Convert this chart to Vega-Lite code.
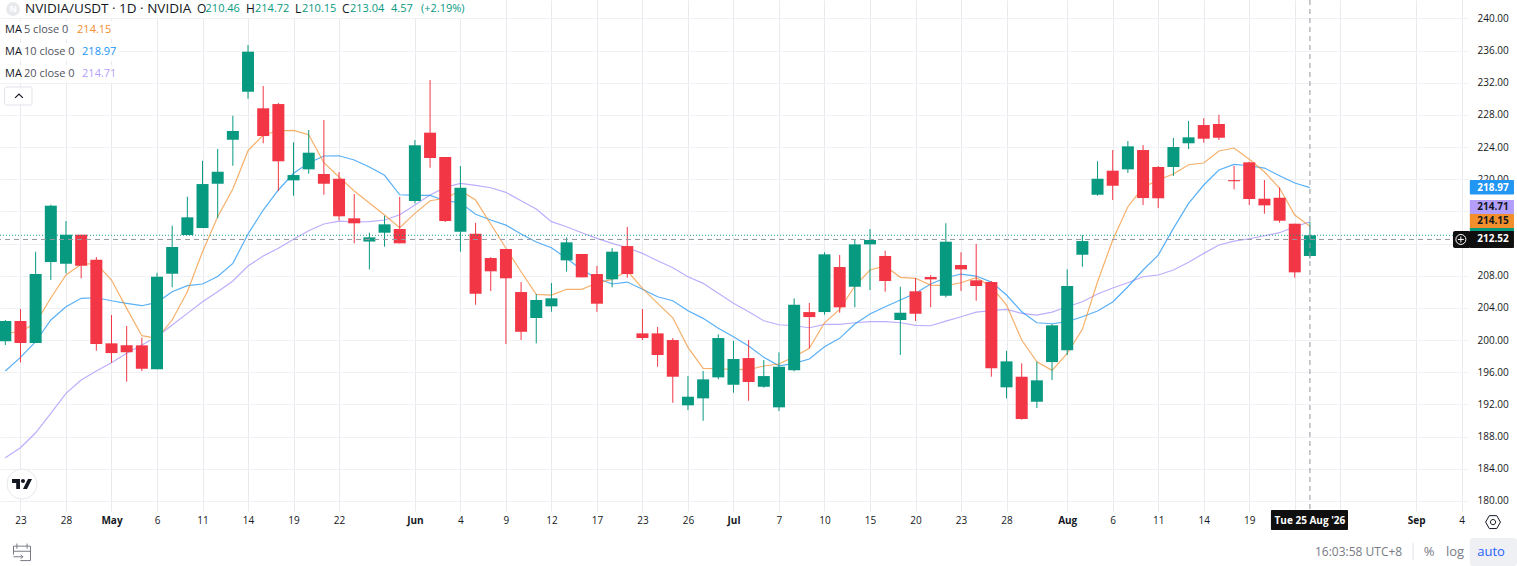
{
  "$schema": "https://vega.github.io/schema/vega-lite/v6.json",
  "description": "NVIDIA/USDT daily candlesticks with MA 5, 10 and 20.",
  "width": 1468,
  "height": 511,
  "autosize": "none",
  "padding": {"left": 0, "top": 0, "right": 49, "bottom": 55},
  "background": "#ffffff",
  "config": {
    "font": "Open Sans",
    "view": {"stroke": null},
    "text": {"align": "left", "baseline": "middle", "fontSize": 11}
  },
  "datasets": {
    "candles": [
      {"bar":0,"date":"2026-04-22","o":199.85,"h":202.50,"l":199.39,"c":202.37,"ma5":200.88,"ma10":196.16,"ma20":185.37},
      {"bar":1,"date":"2026-04-23","o":202.37,"h":203.87,"l":197.24,"c":199.64,"ma5":201.04,"ma10":197.86,"ma20":186.62},
      {"bar":2,"date":"2026-04-24","o":199.64,"h":211.00,"l":199.64,"c":208.22,"ma5":202.13,"ma10":199.80,"ma20":188.48},
      {"bar":3,"date":"2026-04-27","o":209.71,"h":216.84,"l":207.47,"c":216.72,"ma5":205.24,"ma10":202.50,"ma20":190.89},
      {"bar":4,"date":"2026-04-28","o":209.50,"h":214.81,"l":208.31,"c":213.11,"ma5":208.10,"ma10":204.15,"ma20":193.38},
      {"bar":5,"date":"2026-04-29","o":213.11,"h":213.11,"l":207.69,"c":209.25,"ma5":209.43,"ma10":205.20,"ma20":195.04},
      {"bar":6,"date":"2026-04-30","o":210.00,"h":210.33,"l":198.68,"c":199.51,"ma5":209.53,"ma10":205.27,"ma20":196.16},
      {"bar":7,"date":"2026-05-01","o":199.60,"h":203.12,"l":197.19,"c":198.39,"ma5":207.47,"ma10":204.90,"ma20":197.19},
      {"bar":8,"date":"2026-05-04","o":199.35,"h":201.75,"l":194.83,"c":198.48,"ma5":203.95,"ma10":204.58,"ma20":198.36},
      {"bar":9,"date":"2026-05-05","o":199.35,"h":200.30,"l":196.16,"c":196.44,"ma5":200.55,"ma10":204.28,"ma20":199.39},
      {"bar":10,"date":"2026-05-06","o":196.37,"h":208.38,"l":196.37,"c":207.88,"ma5":200.22,"ma10":204.70,"ma20":200.42},
      {"bar":11,"date":"2026-05-07","o":208.26,"h":214.23,"l":206.57,"c":211.58,"ma5":202.50,"ma10":206.02,"ma20":201.88},
      {"bar":12,"date":"2026-05-08","o":213.07,"h":217.83,"l":213.07,"c":215.27,"ma5":206.02,"ma10":206.77,"ma20":203.33},
      {"bar":13,"date":"2026-05-11","o":213.94,"h":222.31,"l":213.94,"c":219.41,"ma5":211.00,"ma10":206.98,"ma20":204.78},
      {"bar":14,"date":"2026-05-12","o":219.45,"h":223.77,"l":215.15,"c":220.94,"ma5":215.35,"ma10":207.91,"ma20":206.02},
      {"bar":15,"date":"2026-05-13","o":224.92,"h":227.91,"l":221.69,"c":226.01,"ma5":218.79,"ma10":209.55,"ma20":207.35},
      {"bar":16,"date":"2026-05-14","o":230.89,"h":236.70,"l":230.02,"c":235.87,"ma5":223.56,"ma10":213.20,"ma20":209.21},
      {"bar":17,"date":"2026-05-15","o":228.83,"h":231.60,"l":224.48,"c":225.38,"ma5":225.51,"ma10":216.18,"ma20":210.46},
      {"bar":18,"date":"2026-05-18","o":229.36,"h":229.49,"l":218.54,"c":222.24,"ma5":226.04,"ma10":218.67,"ma20":211.42},
      {"bar":19,"date":"2026-05-19","o":219.87,"h":224.60,"l":217.96,"c":220.53,"ma5":226.09,"ma10":220.75,"ma20":212.54},
      {"bar":20,"date":"2026-05-20","o":221.24,"h":226.13,"l":220.70,"c":223.31,"ma5":225.55,"ma10":222.03,"ma20":213.61},
      {"bar":21,"date":"2026-05-21","o":220.66,"h":227.37,"l":218.08,"c":219.45,"ma5":222.06,"ma10":222.90,"ma20":214.44},
      {"bar":22,"date":"2026-05-22","o":220.07,"h":220.91,"l":214.90,"c":215.40,"ma5":220.28,"ma10":222.93,"ma20":214.81},
      {"bar":23,"date":"2026-05-26","o":215.15,"h":218.17,"l":212.04,"c":214.53,"ma5":218.54,"ma10":222.40,"ma20":214.69},
      {"bar":24,"date":"2026-05-27","o":212.26,"h":213.36,"l":208.80,"c":212.78,"ma5":217.05,"ma10":221.53,"ma20":214.73},
      {"bar":25,"date":"2026-05-28","o":213.36,"h":215.47,"l":211.62,"c":214.40,"ma5":215.56,"ma10":220.50,"ma20":214.94},
      {"bar":26,"date":"2026-05-29","o":213.82,"h":217.83,"l":212.04,"c":212.04,"ma5":213.98,"ma10":218.08,"ma20":215.60},
      {"bar":27,"date":"2026-06-01","o":217.30,"h":224.89,"l":217.01,"c":224.23,"ma5":215.77,"ma10":218.01,"ma20":216.80},
      {"bar":28,"date":"2026-06-02","o":225.80,"h":232.35,"l":221.44,"c":222.65,"ma5":217.34,"ma10":218.01,"ma20":218.05},
      {"bar":29,"date":"2026-06-03","o":222.77,"h":222.77,"l":214.69,"c":214.81,"ma5":217.64,"ma10":217.34,"ma20":219.00},
      {"bar":30,"date":"2026-06-04","o":213.48,"h":221.65,"l":211.00,"c":218.95,"ma5":218.58,"ma10":217.09,"ma20":219.50},
      {"bar":31,"date":"2026-06-05","o":213.23,"h":214.60,"l":204.40,"c":205.77,"ma5":217.42,"ma10":215.65,"ma20":219.25},
      {"bar":32,"date":"2026-06-08","o":210.21,"h":210.33,"l":206.11,"c":208.56,"ma5":214.44,"ma10":214.94,"ma20":218.95},
      {"bar":33,"date":"2026-06-09","o":211.33,"h":211.33,"l":199.51,"c":207.69,"ma5":211.42,"ma10":214.31,"ma20":218.38},
      {"bar":34,"date":"2026-06-10","o":205.98,"h":207.22,"l":200.01,"c":201.04,"ma5":208.51,"ma10":213.20,"ma20":217.34},
      {"bar":35,"date":"2026-06-11","o":202.75,"h":205.73,"l":199.60,"c":204.99,"ma5":205.70,"ma10":212.20,"ma20":216.30},
      {"bar":36,"date":"2026-06-12","o":204.20,"h":207.10,"l":203.53,"c":205.20,"ma5":205.61,"ma10":211.49,"ma20":214.73},
      {"bar":37,"date":"2026-06-15","o":209.92,"h":212.78,"l":208.51,"c":212.16,"ma5":206.32,"ma10":210.17,"ma20":214.10},
      {"bar":38,"date":"2026-06-16","o":210.71,"h":210.71,"l":207.81,"c":207.81,"ma5":206.32,"ma10":208.72,"ma20":213.36},
      {"bar":39,"date":"2026-06-17","o":208.22,"h":209.22,"l":203.53,"c":204.53,"ma5":207.10,"ma10":207.69,"ma20":212.66},
      {"bar":40,"date":"2026-06-18","o":207.56,"h":211.45,"l":206.57,"c":211.00,"ma5":207.56,"ma10":206.98,"ma20":212.04},
      {"bar":41,"date":"2026-06-22","o":211.70,"h":214.07,"l":207.76,"c":208.22,"ma5":208.63,"ma10":207.22,"ma20":211.49},
      {"bar":42,"date":"2026-06-23","o":200.84,"h":203.87,"l":200.01,"c":200.26,"ma5":206.44,"ma10":206.32,"ma20":210.79},
      {"bar":43,"date":"2026-06-24","o":200.84,"h":201.63,"l":196.69,"c":198.15,"ma5":204.58,"ma10":205.40,"ma20":209.87},
      {"bar":44,"date":"2026-06-25","o":200.01,"h":200.26,"l":192.21,"c":195.45,"ma5":202.78,"ma10":204.90,"ma20":209.00},
      {"bar":45,"date":"2026-06-26","o":191.89,"h":195.53,"l":191.30,"c":192.96,"ma5":199.10,"ma10":203.66,"ma20":207.88},
      {"bar":46,"date":"2026-06-29","o":192.76,"h":196.16,"l":189.97,"c":195.12,"ma5":196.49,"ma10":202.71,"ma20":207.06},
      {"bar":47,"date":"2026-06-30","o":195.37,"h":200.72,"l":195.12,"c":200.26,"ma5":196.44,"ma10":201.47,"ma20":205.82},
      {"bar":48,"date":"2026-07-01","o":194.45,"h":199.92,"l":193.46,"c":197.65,"ma5":196.37,"ma10":200.42,"ma20":204.58},
      {"bar":49,"date":"2026-07-02","o":197.77,"h":200.01,"l":192.46,"c":194.79,"ma5":196.34,"ma10":199.27,"ma20":203.53},
      {"bar":50,"date":"2026-07-06","o":194.20,"h":197.52,"l":194.08,"c":195.53,"ma5":196.78,"ma10":197.86,"ma20":202.41},
      {"bar":51,"date":"2026-07-07","o":191.64,"h":198.48,"l":191.18,"c":196.69,"ma5":197.03,"ma10":196.81,"ma20":201.91},
      {"bar":52,"date":"2026-07-08","o":196.24,"h":205.20,"l":196.12,"c":204.40,"ma5":197.93,"ma10":197.11,"ma20":201.79},
      {"bar":53,"date":"2026-07-09","o":203.49,"h":204.61,"l":198.98,"c":202.87,"ma5":198.98,"ma10":197.65,"ma20":201.54},
      {"bar":54,"date":"2026-07-10","o":203.49,"h":210.92,"l":203.16,"c":210.67,"ma5":202.16,"ma10":199.18,"ma20":201.96},
      {"bar":55,"date":"2026-07-13","o":209.09,"h":210.58,"l":203.41,"c":204.08,"ma5":203.83,"ma10":200.22,"ma20":201.96},
      {"bar":56,"date":"2026-07-14","o":206.64,"h":212.54,"l":204.08,"c":211.91,"ma5":206.73,"ma10":202.00,"ma20":202.16},
      {"bar":57,"date":"2026-07-15","o":211.91,"h":213.82,"l":206.23,"c":212.45,"ma5":208.72,"ma10":203.25,"ma20":202.29},
      {"bar":58,"date":"2026-07-16","o":210.46,"h":211.12,"l":206.02,"c":207.35,"ma5":209.22,"ma10":204.15,"ma20":202.29},
      {"bar":59,"date":"2026-07-17","o":202.50,"h":206.64,"l":198.15,"c":203.41,"ma5":207.81,"ma10":204.99,"ma20":202.16},
      {"bar":60,"date":"2026-07-20","o":206.07,"h":207.72,"l":202.37,"c":203.28,"ma5":207.69,"ma10":205.82,"ma20":201.84},
      {"bar":61,"date":"2026-07-21","o":207.85,"h":208.10,"l":204.08,"c":207.56,"ma5":206.85,"ma10":206.98,"ma20":201.79},
      {"bar":62,"date":"2026-07-22","o":205.52,"h":214.53,"l":205.32,"c":212.24,"ma5":206.77,"ma10":207.76,"ma20":202.37},
      {"bar":63,"date":"2026-07-23","o":209.34,"h":210.92,"l":206.11,"c":208.80,"ma5":207.14,"ma10":208.22,"ma20":202.91},
      {"bar":64,"date":"2026-07-24","o":207.44,"h":211.95,"l":204.90,"c":206.73,"ma5":207.76,"ma10":207.97,"ma20":203.49},
      {"bar":65,"date":"2026-07-27","o":207.22,"h":207.35,"l":195.45,"c":196.49,"ma5":206.64,"ma10":207.22,"ma20":203.66},
      {"bar":66,"date":"2026-07-28","o":194.13,"h":198.68,"l":192.76,"c":197.36,"ma5":204.37,"ma10":205.61,"ma20":203.83},
      {"bar":67,"date":"2026-07-29","o":195.45,"h":197.11,"l":190.10,"c":190.19,"ma5":200.01,"ma10":203.53,"ma20":203.33},
      {"bar":68,"date":"2026-07-30","o":192.34,"h":197.31,"l":191.55,"c":195.00,"ma5":197.31,"ma10":202.16,"ma20":203.12},
      {"bar":69,"date":"2026-07-31","o":197.27,"h":202.00,"l":195.04,"c":201.84,"ma5":196.24,"ma10":202.04,"ma20":203.49},
      {"bar":70,"date":"2026-08-03","o":198.73,"h":208.80,"l":198.15,"c":206.73,"ma5":198.36,"ma10":202.29,"ma20":204.15},
      {"bar":71,"date":"2026-08-04","o":210.62,"h":213.07,"l":209.13,"c":212.32,"ma5":201.34,"ma10":202.91,"ma20":204.78},
      {"bar":72,"date":"2026-08-05","o":218.08,"h":222.24,"l":217.96,"c":220.07,"ma5":207.26,"ma10":203.62,"ma20":205.73},
      {"bar":73,"date":"2026-08-06","o":221.07,"h":223.64,"l":217.42,"c":219.20,"ma5":212.45,"ma10":204.74,"ma20":206.48},
      {"bar":74,"date":"2026-08-07","o":221.24,"h":224.76,"l":220.78,"c":224.10,"ma5":216.59,"ma10":206.64,"ma20":207.14},
      {"bar":75,"date":"2026-08-10","o":223.64,"h":224.27,"l":216.80,"c":217.67,"ma5":219.00,"ma10":208.72,"ma20":207.88},
      {"bar":76,"date":"2026-08-11","o":221.53,"h":221.65,"l":216.43,"c":217.64,"ma5":219.91,"ma10":210.58,"ma20":208.10},
      {"bar":77,"date":"2026-08-12","o":221.53,"h":225.14,"l":220.41,"c":224.02,"ma5":220.66,"ma10":213.90,"ma20":208.72},
      {"bar":78,"date":"2026-08-13","o":224.48,"h":227.25,"l":223.77,"c":225.22,"ma5":221.81,"ma10":217.01,"ma20":209.68},
      {"bar":79,"date":"2026-08-14","o":226.75,"h":227.59,"l":224.55,"c":225.05,"ma5":222.03,"ma10":219.29,"ma20":210.79},
      {"bar":80,"date":"2026-08-17","o":226.88,"h":228.03,"l":224.89,"c":225.17,"ma5":223.52,"ma10":221.16,"ma20":211.83},
      {"bar":81,"date":"2026-08-18","o":219.90,"h":221.65,"l":218.75,"c":219.76,"ma5":223.89,"ma10":221.86,"ma20":212.32},
      {"bar":82,"date":"2026-08-19","o":222.11,"h":222.20,"l":216.80,"c":217.55,"ma5":222.49,"ma10":221.69,"ma20":212.61},
      {"bar":83,"date":"2026-08-20","o":217.59,"h":219.91,"l":215.72,"c":216.76,"ma5":220.94,"ma10":221.40,"ma20":212.98},
      {"bar":84,"date":"2026-08-21","o":217.71,"h":219.00,"l":214.60,"c":214.85,"ma5":218.88,"ma10":220.45,"ma20":213.36},
      {"bar":85,"date":"2026-08-24","o":214.48,"h":214.48,"l":207.76,"c":208.43,"ma5":215.56,"ma10":219.54,"ma20":214.10},
      {"bar":86,"date":"2026-08-25","o":210.46,"h":214.72,"l":210.15,"c":213.04,"ma5":214.15,"ma10":218.97,"ma20":214.71}
    ]
  },
  "data": {"values": [{}]},
  "layer": [
    {
      "mark": {"type": "rect", "color": "#ffffff"},
      "encoding": {
        "x": {
          "datum": -0.35,
          "type": "quantitative",
          "scale": {"domain": [-0.35, 96.42], "nice": false, "zero": false, "padding": 0},
          "axis": {
            "title": null,
            "orient": "bottom",
            "values": [1, 4, 7, 10, 13, 16, 19, 22, 27, 30, 33, 36, 39, 42, 45, 48, 51, 54, 57, 60, 63, 66, 70, 73, 76, 79, 82, 85, 88, 93, 96],
            "tickCount": 40,
            "labelExpr": "{1:'23',4:'28',7:'May',10:'6',13:'11',16:'14',19:'19',22:'22',27:'Jun',30:'4',33:'9',36:'12',39:'17',42:'23',45:'26',48:'Jul',51:'7',54:'10',57:'15',60:'20',63:'23',66:'28',70:'Aug',73:'6',76:'11',79:'14',82:'19',85:'',88:'',93:'Sep',96:'4'}[datum.value]",
            "labelFontWeight": {"condition": {"test": "indexof([7,27,48,70,93],datum.value)>=0", "value": "bold"}, "value": "normal"},
            "labelFontSize": 10,
            "labelColor": "#131722",
            "labelPadding": 4,
            "labelOverlap": false,
            "labelBound": false,
            "labelFlush": false,
            "ticks": false,
            "domain": false,
            "grid": true,
            "gridColor": "#e8eaee",
            "gridWidth": 1
          }
        },
        "x2": {"datum": 30.8},
        "y": {
          "datum": 242.3,
          "type": "quantitative",
          "scale": {"domain": [178.75, 242.3], "nice": false, "zero": false, "padding": 0},
          "axis": {
            "title": null,
            "orient": "right",
            "values": [180, 184, 188, 192, 196, 200, 204, 208, 212, 216, 220, 224, 228, 232, 236, 240],
            "tickCount": 20,
            "labelExpr": "datum.value == 212 || datum.value == 216 ? '' : format(datum.value, '.2f')",
            "labelFontSize": 10,
            "labelColor": "#131722",
            "labelPadding": 9,
            "labelOverlap": false,
            "labelBound": false,
            "labelFlush": false,
            "ticks": false,
            "domain": false,
            "grid": true,
            "gridColor": "#eff1f4",
            "gridWidth": 1
          }
        },
        "y2": {"datum": 240.06}
      }
    },
    {"mark": {"type": "rect", "color": "#ffffff", "opacity": 0.85}, "encoding": {"x": {"datum": -0.35}, "x2": {"datum": 7.5}, "y": {"datum": 239.69}, "y2": {"datum": 237.45}}},
    {"mark": {"type": "rect", "color": "#ffffff", "opacity": 0.85}, "encoding": {"x": {"datum": -0.35}, "x2": {"datum": 7.5}, "y": {"datum": 236.95}, "y2": {"datum": 234.71}}},
    {"mark": {"type": "rect", "color": "#ffffff", "opacity": 0.85}, "encoding": {"x": {"datum": -0.35}, "x2": {"datum": 7.5}, "y": {"datum": 234.22}, "y2": {"datum": 231.98}}},
    {
      "data": {"name": "candles"},
      "mark": {"type": "line", "color": "#b39ffb", "strokeWidth": 1.2, "opacity": 0.85},
      "encoding": {"x": {"field": "bar", "type": "quantitative"}, "y": {"field": "ma20", "type": "quantitative"}}
    },
    {
      "data": {"name": "candles"},
      "mark": {"type": "line", "color": "#2196f3", "strokeWidth": 1.2, "opacity": 0.75},
      "encoding": {"x": {"field": "bar", "type": "quantitative"}, "y": {"field": "ma10", "type": "quantitative"}}
    },
    {
      "data": {"name": "candles"},
      "mark": {"type": "line", "color": "#f28e2c", "strokeWidth": 1.2, "opacity": 0.7},
      "encoding": {"x": {"field": "bar", "type": "quantitative"}, "y": {"field": "ma5", "type": "quantitative"}}
    },
    {
      "data": {"name": "candles"},
      "mark": {"type": "rule", "strokeWidth": 1},
      "encoding": {
        "x": {"field": "bar", "type": "quantitative"},
        "y": {"field": "h", "type": "quantitative"},
        "y2": {"field": "l"},
        "color": {"condition": {"test": "datum.c >= datum.o", "value": "#089981"}, "value": "#f23645"}
      }
    },
    {
      "data": {"name": "candles"},
      "mark": {"type": "bar", "size": 12, "orient": "vertical"},
      "encoding": {
        "x": {"field": "bar", "type": "quantitative"},
        "y": {"field": "o", "type": "quantitative"},
        "y2": {"field": "c"},
        "color": {"condition": {"test": "datum.c >= datum.o", "value": "#089981"}, "value": "#f23645"}
      }
    },
    {"mark": {"type": "rule", "color": "#089981", "strokeDash": [1, 2], "opacity": 0.9}, "encoding": {"y": {"datum": 213.04}}},
    {"mark": {"type": "rule", "color": "#9598a1", "strokeDash": [5, 4]}, "encoding": {"y": {"datum": 212.52}}},
    {"mark": {"type": "rule", "color": "#9598a1", "strokeDash": [5, 4]}, "encoding": {"x": {"datum": 86}}},

    {"mark": {"type": "point", "shape": "circle", "filled": true, "color": "#e8e9ec", "size": 190, "opacity": 1}, "encoding": {"x": {"datum": 0.51}, "y": {"datum": 241.18}}},
    {"mark": {"type": "text", "align": "center", "color": "#ffffff", "fontSize": 9, "fontWeight": "bold"}, "encoding": {"x": {"datum": 0.51}, "y": {"datum": 241.18}, "text": {"value": "N"}}},
    {"mark": {"type": "text", "fontSize": 13.5, "color": "#131722"}, "encoding": {"x": {"datum": 1.3}, "y": {"datum": 241.18}, "text": {"value": "NVIDIA/USDT · 1D · NVIDIA"}}},
    {"mark": {"type": "text", "fontSize": 12, "color": "#131722"}, "encoding": {"x": {"datum": 12.64}, "y": {"datum": 241.18}, "text": {"value": "O"}}},
    {"mark": {"type": "text", "color": "#089981"}, "encoding": {"x": {"datum": 13.2}, "y": {"datum": 241.18}, "text": {"value": "210.46"}}},
    {"mark": {"type": "text", "fontSize": 12, "color": "#131722"}, "encoding": {"x": {"datum": 15.87}, "y": {"datum": 241.18}, "text": {"value": "H"}}},
    {"mark": {"type": "text", "color": "#089981"}, "encoding": {"x": {"datum": 16.46}, "y": {"datum": 241.18}, "text": {"value": "214.72"}}},
    {"mark": {"type": "text", "fontSize": 12, "color": "#131722"}, "encoding": {"x": {"datum": 19.1}, "y": {"datum": 241.18}, "text": {"value": "L"}}},
    {"mark": {"type": "text", "color": "#089981"}, "encoding": {"x": {"datum": 19.56}, "y": {"datum": 241.18}, "text": {"value": "210.15"}}},
    {"mark": {"type": "text", "fontSize": 12, "color": "#131722"}, "encoding": {"x": {"datum": 22.2}, "y": {"datum": 241.18}, "text": {"value": "C"}}},
    {"mark": {"type": "text", "color": "#089981"}, "encoding": {"x": {"datum": 22.72}, "y": {"datum": 241.18}, "text": {"value": "213.04"}}},
    {"mark": {"type": "text", "color": "#089981"}, "encoding": {"x": {"datum": 25.43}, "y": {"datum": 241.18}, "text": {"value": "4.57"}}},
    {"mark": {"type": "text", "color": "#089981"}, "encoding": {"x": {"datum": 27.4}, "y": {"datum": 241.18}, "text": {"value": "(+2.19%)"}}},

    {"mark": {"type": "text", "color": "#131722"}, "encoding": {"x": {"datum": -0.02}, "y": {"datum": 238.57}, "text": {"value": "MA"}}},
    {"mark": {"type": "text", "color": "#50535e"}, "encoding": {"x": {"datum": 1.23}, "y": {"datum": 238.57}, "text": {"value": "5 close 0"}}},
    {"mark": {"type": "text", "color": "#f28e2c"}, "encoding": {"x": {"datum": 4.73}, "y": {"datum": 238.57}, "text": {"value": "214.15"}}},
    {"mark": {"type": "text", "color": "#131722"}, "encoding": {"x": {"datum": -0.02}, "y": {"datum": 235.83}, "text": {"value": "MA"}}},
    {"mark": {"type": "text", "color": "#50535e"}, "encoding": {"x": {"datum": 1.23}, "y": {"datum": 235.83}, "text": {"value": "10 close 0"}}},
    {"mark": {"type": "text", "color": "#2196f3"}, "encoding": {"x": {"datum": 5.06}, "y": {"datum": 235.83}, "text": {"value": "218.97"}}},
    {"mark": {"type": "text", "color": "#131722"}, "encoding": {"x": {"datum": -0.02}, "y": {"datum": 233.1}, "text": {"value": "MA"}}},
    {"mark": {"type": "text", "color": "#50535e"}, "encoding": {"x": {"datum": 1.23}, "y": {"datum": 233.1}, "text": {"value": "20 close 0"}}},
    {"mark": {"type": "text", "color": "#b39ffb"}, "encoding": {"x": {"datum": 5.06}, "y": {"datum": 233.1}, "text": {"value": "214.71"}}},

    {"mark": {"type": "rect", "fill": "#ffffff", "stroke": "#e0e3eb", "cornerRadius": 2}, "encoding": {"x": {"datum": -0.05}, "x2": {"datum": 1.76}, "y": {"datum": 231.48}, "y2": {"datum": 229.24}}},
    {"mark": {"type": "point", "shape": "M-1 .5 L0 -.5 L1 .5", "filled": false, "color": "#131722", "strokeWidth": 1.2, "size": 60, "opacity": 1}, "encoding": {"x": {"datum": 0.9}, "y": {"datum": 230.36}}},

    {"mark": {"type": "point", "shape": "circle", "filled": true, "fill": "#ffffff", "stroke": "#e6e8ec", "strokeWidth": 1, "size": 900, "opacity": 1}, "encoding": {"x": {"datum": 1.1}, "y": {"datum": 182.1}}},
    {"mark": {"type": "point", "shape": "M-1 -.5 H-.2 V.5 H-.58 V-.1 H-1 Z M.1 -.5 A.2 .2 0 1 1 .1 -.1 A.2 .2 0 1 1 .1 -.5 Z M.6 -.5 H1 L.5 .5 H.1 Z", "filled": true, "color": "#131722", "size": 400, "opacity": 1}, "encoding": {"x": {"datum": 1.1}, "y": {"datum": 182.1}}},

    {"mark": {"type": "rect", "color": "#2196f3", "cornerRadius": 1}, "encoding": {"x": {"datum": 96.54}, "x2": {"datum": 99.45}, "y": {"datum": 219.91}, "y2": {"datum": 218.11}}},
    {"mark": {"type": "text", "align": "center", "fontSize": 10, "color": "#ffffff", "fontWeight": "bold"}, "encoding": {"x": {"datum": 98.07}, "y": {"datum": 218.97}, "text": {"value": "218.97"}}},
    {"mark": {"type": "rect", "color": "#b39ffb"}, "encoding": {"x": {"datum": 96.54}, "x2": {"datum": 99.45}, "y": {"datum": 217.42}, "y2": {"datum": 215.68}}},
    {"mark": {"type": "text", "align": "center", "fontSize": 10, "fontWeight": "bold", "color": "#131722"}, "encoding": {"x": {"datum": 98.07}, "y": {"datum": 216.55}, "text": {"value": "214.71"}}},
    {"mark": {"type": "rect", "color": "#f28e2c"}, "encoding": {"x": {"datum": 96.54}, "x2": {"datum": 99.45}, "y": {"datum": 215.68}, "y2": {"datum": 213.94}}},
    {"mark": {"type": "text", "align": "center", "fontSize": 10, "fontWeight": "bold", "color": "#131722"}, "encoding": {"x": {"datum": 98.07}, "y": {"datum": 214.81}, "text": {"value": "214.15"}}},
    {"mark": {"type": "rect", "color": "#089981"}, "encoding": {"x": {"datum": 96.54}, "x2": {"datum": 99.45}, "y": {"datum": 213.94}, "y2": {"datum": 213.45}}},
    {"mark": {"type": "rect", "color": "#0f0f0f", "cornerRadius": 1}, "encoding": {"x": {"datum": 96.54}, "x2": {"datum": 99.45}, "y": {"datum": 213.57}, "y2": {"datum": 211.45}}},
    {"mark": {"type": "text", "align": "center", "fontSize": 10, "color": "#ffffff", "fontWeight": "bold"}, "encoding": {"x": {"datum": 98.07}, "y": {"datum": 212.52}, "text": {"value": "212.52"}}},
    {"mark": {"type": "rect", "color": "#0f0f0f", "cornerRadius": 2}, "encoding": {"x": {"datum": 95.43}, "x2": {"datum": 96.6}, "y": {"datum": 213.57}, "y2": {"datum": 211.45}}},
    {"mark": {"type": "point", "shape": "circle", "filled": false, "color": "#ffffff", "strokeWidth": 1, "size": 100, "opacity": 1}, "encoding": {"x": {"datum": 95.95}, "y": {"datum": 212.52}}},
    {"mark": {"type": "point", "shape": "M-1 0 H1 M0 -1 V1", "filled": false, "color": "#ffffff", "strokeWidth": 1, "size": 36, "opacity": 1}, "encoding": {"x": {"datum": 95.95}, "y": {"datum": 212.52}}},

    {"mark": {"type": "rect", "color": "#0f0f0f", "cornerRadius": 1}, "encoding": {"x": {"datum": 83.43}, "x2": {"datum": 88.51}, "y": {"datum": 178.87}, "y2": {"datum": 176.38}}},
    {"mark": {"type": "text", "align": "center", "fontSize": 10, "color": "#ffffff", "fontWeight": "bold"}, "encoding": {"x": {"datum": 86}, "y": {"datum": 177.5}, "text": {"value": "Tue 25 Aug '26"}}},
    {"mark": {"type": "point", "shape": "M-1 0 L-.5 -.87 H.5 L1 0 L.5 .87 H-.5 Z M.35 0 A.35 .35 0 1 1 -.35 0 A.35 .35 0 1 1 .35 0 Z", "filled": false, "color": "#131722", "strokeWidth": 1, "size": 220, "opacity": 1}, "encoding": {"x": {"datum": 98.07}, "y": {"datum": 177.37}}},

    {"mark": {"type": "point", "shape": "M-1 -.7 H1 V1 H-.2 M-1 .3 V-.7 M-.6 -1 V-.4 M.6 -1 V-.4 M-1 -.1 H1 M-1 .55 H.1 M-.15 .3 L.1 .55 L-.15 .8", "filled": false, "color": "#787b86", "strokeWidth": 1, "size": 289, "opacity": 1}, "encoding": {"x": {"datum": 1.1}, "y": {"datum": 173.64}}},
    {"mark": {"type": "text", "fontSize": 12, "color": "#787b86"}, "encoding": {"x": {"datum": 86.33}, "y": {"datum": 173.64}, "text": {"value": "16:03:58 UTC+8"}}},
    {"mark": {"type": "rule", "color": "#e0e3eb"}, "encoding": {"x": {"datum": 92.8}, "y": {"datum": 174.76}, "y2": {"datum": 172.65}}},
    {"mark": {"type": "text", "align": "center", "color": "#787b86", "fontSize": 13}, "encoding": {"x": {"datum": 93.85}, "y": {"datum": 173.64}, "text": {"value": "%"}}},
    {"mark": {"type": "text", "align": "center", "color": "#787b86", "fontSize": 13}, "encoding": {"x": {"datum": 95.56}, "y": {"datum": 173.64}, "text": {"value": "log"}}},
    {"mark": {"type": "rect", "color": "#eef0f3", "cornerRadius": 3}, "encoding": {"x": {"datum": 96.54}, "x2": {"datum": 99.65}, "y": {"datum": 175.39}, "y2": {"datum": 171.9}}},
    {"mark": {"type": "text", "align": "center", "color": "#2962ff", "fontSize": 13}, "encoding": {"x": {"datum": 97.94}, "y": {"datum": 173.64}, "text": {"value": "auto"}}}
  ]
}
